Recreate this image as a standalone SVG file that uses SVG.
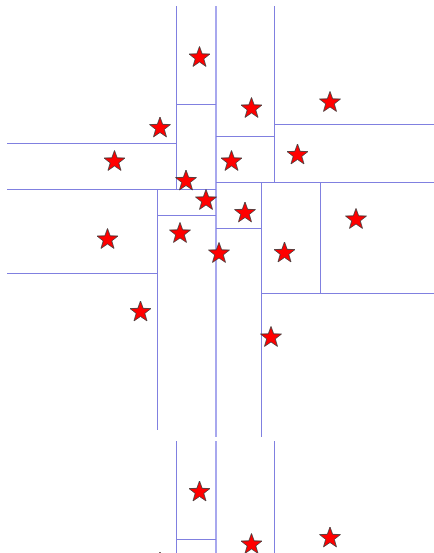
<svg xmlns="http://www.w3.org/2000/svg" width="434" height="553" viewBox="0 0 434 553">
  <style>
    .ln { stroke: #8080e0; stroke-width: 1; fill: none; }
    .ln2 { stroke: #a8a8ee; stroke-width: 2; fill: none; }
    .st { fill: #ff0000; stroke: #333333; stroke-width: 0.8; stroke-linejoin: miter; }
  </style>
  <defs>
    <path id="star" class="st" d="M0,-11 L2.65,-3.64 L10.46,-3.4 L4.28,1.39 L6.47,8.9 L0,4.5 L-6.47,8.9 L-4.28,1.39 L-10.46,-3.4 L-2.65,-3.64 Z"/>
  </defs>
  <rect width="434" height="553" fill="#ffffff"/>
  <g id="partition-lines">
    <!-- upper tile verticals -->
    <line class="ln" x1="176.5" y1="6" x2="176.5" y2="189"/>
    <line class="ln2" x1="216" y1="6" x2="216" y2="437"/>
    <line class="ln" x1="274.5" y1="6" x2="274.5" y2="182"/>
    <line class="ln" x1="157.5" y1="189" x2="157.5" y2="430"/>
    <line class="ln" x1="261.5" y1="182" x2="261.5" y2="437"/>
    <line class="ln" x1="320.5" y1="182" x2="320.5" y2="293"/>
    <!-- upper tile horizontals -->
    <line class="ln" x1="177" y1="104.5" x2="216" y2="104.5"/>
    <line class="ln" x1="216" y1="136.5" x2="275" y2="136.5"/>
    <line class="ln" x1="275" y1="124.5" x2="434" y2="124.5"/>
    <line class="ln" x1="7" y1="143.5" x2="177" y2="143.5"/>
    <line class="ln" x1="7" y1="189.5" x2="216" y2="189.5"/>
    <line class="ln" x1="216" y1="182.5" x2="434" y2="182.5"/>
    <line class="ln" x1="157" y1="215.5" x2="216" y2="215.5"/>
    <line class="ln" x1="216" y1="228.5" x2="261" y2="228.5"/>
    <line class="ln" x1="7" y1="273.5" x2="157" y2="273.5"/>
    <line class="ln" x1="261" y1="293.5" x2="434" y2="293.5"/>
    <!-- lower tile -->
    <line class="ln" x1="176.5" y1="441" x2="176.5" y2="553"/>
    <line class="ln2" x1="216" y1="441" x2="216" y2="553"/>
    <line class="ln" x1="274.5" y1="441" x2="274.5" y2="553"/>
    <line class="ln" x1="177" y1="539.5" x2="216" y2="539.5"/>
  </g>
  <g id="points">
    <use href="#star" x="199.5" y="57.5"/>
    <use href="#star" x="251.5" y="108.5"/>
    <use href="#star" x="160" y="128"/>
    <use href="#star" x="330" y="102.5"/>
    <use href="#star" x="297.5" y="155"/>
    <use href="#star" x="114.5" y="161.5"/>
    <use href="#star" x="231.5" y="161.5"/>
    <use href="#star" x="186" y="181"/>
    <use href="#star" x="206" y="200.5"/>
    <use href="#star" x="245" y="213"/>
    <use href="#star" x="356" y="219.5"/>
    <use href="#star" x="107.5" y="239.5"/>
    <use href="#star" x="180" y="233.5"/>
    <use href="#star" x="284.5" y="253"/>
    <use href="#star" x="219" y="253.5"/>
    <use href="#star" x="140.5" y="312"/>
    <use href="#star" x="271" y="337.5"/>
    <use href="#star" x="199.5" y="492"/>
    <use href="#star" x="251.5" y="544.5"/>
    <use href="#star" x="330" y="538"/>
    <use href="#star" x="160" y="563"/>
  </g>
</svg>
